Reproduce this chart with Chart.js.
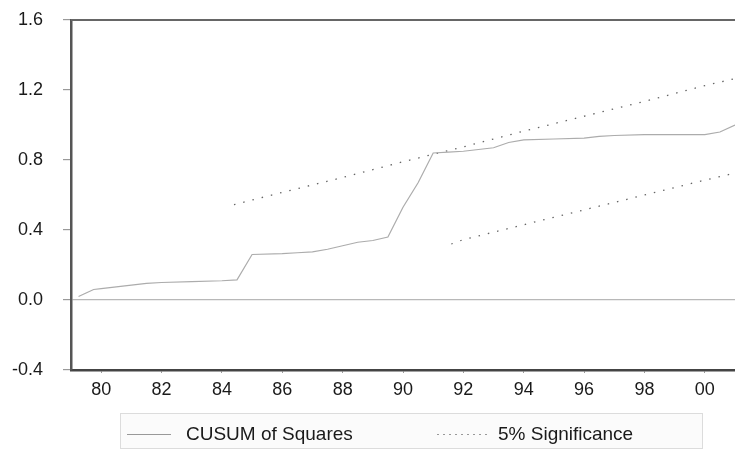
<!DOCTYPE html>
<html>
<head>
<meta charset="utf-8">
<script src="https://cdn.jsdelivr.net/npm/chart.js@4/dist/chart.umd.min.js"></script>
<style>
  html, body { margin: 0; padding: 0; background: #fff; }
  #wrap { width: 735px; height: 451px; }
</style>
</head>
<body>
<div id="wrap"><canvas id="cusumChart" width="735" height="451"></canvas></div>
<script>
// CUSUM of squares, quarterly, 1979-2000
const cusumYears = [1979.25, 1979.5, 1979.75, 1980.0, 1980.5, 1981.0, 1981.5, 1982.0, 1983.0, 1984.0,
  1984.5, 1985.0, 1986.0, 1986.5, 1987.0, 1987.5, 1988.0, 1988.5, 1989.0, 1989.5,
  1990.0, 1990.5, 1991.0, 1991.5, 1992.0, 1992.5, 1993.0, 1993.5, 1994.0, 1995.0,
  1996.0, 1996.5, 1997.0, 1998.0, 1999.0, 2000.0, 2000.5, 2001.0];
const cusumValues = [0.02, 0.04, 0.06, 0.065, 0.075, 0.085, 0.095, 0.10, 0.105, 0.11,
  0.115, 0.26, 0.265, 0.27, 0.275, 0.29, 0.31, 0.33, 0.34, 0.36,
  0.53, 0.67, 0.84, 0.845, 0.85, 0.86, 0.87, 0.90, 0.915, 0.92,
  0.925, 0.935, 0.94, 0.945, 0.945, 0.945, 0.96, 1.0];

// 5% significance bands
const upperYears = [1984.4, 1986, 1988, 1990, 1992, 1994, 1996, 1998, 2000, 2001];
const upperValues = [0.545, 0.615, 0.70, 0.79, 0.875, 0.965, 1.05, 1.135, 1.225, 1.265];
const lowerYears = [1991.6, 1992, 1994, 1996, 1998, 2000, 2001];
const lowerValues = [0.32, 0.345, 0.43, 0.515, 0.60, 0.685, 0.725];

// axis ticks
const xTickYears = [1980, 1982, 1984, 1986, 1988, 1990, 1992, 1994, 1996, 1998, 2000];
const xTickLabels = ["80", "82", "84", "86", "88", "90", "92", "94", "96", "98", "00"];
const yTicks = [-0.4, 0.0, 0.4, 0.8, 1.2, 1.6];

const FONT = "'Liberation Sans', Arial, sans-serif";

function toPoints(xs, ys) {
  return xs.map((x, i) => ({ x: x, y: ys[i] }));
}

// top frame line + legend box under the axis
const frameAndLegend = {
  id: "frameAndLegend",
  afterDraw(chart) {
    const ctx = chart.ctx;
    const area = chart.chartArea;
    ctx.save();

    ctx.strokeStyle = "#666";
    ctx.lineWidth = 2;
    ctx.beginPath();
    ctx.moveTo(area.left, area.top);
    ctx.lineTo(area.right, area.top);
    ctx.stroke();

    const boxTop = 413, boxBottom = 448, boxLeft = 120, boxRight = 702;
    const midY = 434.5;
    ctx.fillStyle = "#fbfbfb";
    ctx.fillRect(boxLeft, boxTop, boxRight - boxLeft, boxBottom - boxTop);
    ctx.strokeStyle = "#dcdcdc";
    ctx.lineWidth = 1;
    ctx.strokeRect(boxLeft + 0.5, boxTop + 0.5, boxRight - boxLeft, boxBottom - boxTop);

    const ds = chart.data.datasets;
    ctx.strokeStyle = "#999";
    ctx.beginPath();
    ctx.moveTo(127, midY);
    ctx.lineTo(171, midY);
    ctx.stroke();

    ctx.strokeStyle = "#999";
    ctx.setLineDash([2, 4]);
    ctx.beginPath();
    ctx.moveTo(437, midY);
    ctx.lineTo(487, midY);
    ctx.stroke();
    ctx.setLineDash([]);

    ctx.fillStyle = "#1a1a1a";
    ctx.font = "19px " + FONT;
    ctx.textBaseline = "middle";
    ctx.textAlign = "left";
    ctx.fillText(ds[0].label, 186, midY);
    ctx.fillText(ds[1].label, 498, midY);
    ctx.restore();
  }
};

const ctx = document.getElementById("cusumChart").getContext("2d");
new Chart(ctx, {
  type: "line",
  data: {
    datasets: [
      {
        label: "CUSUM of Squares",
        data: toPoints(cusumYears, cusumValues),
        borderColor: "#acacac",
        borderWidth: 1.2,
        pointRadius: 0,
        tension: 0
      },
      {
        label: "5% Significance",
        data: toPoints(upperYears, upperValues),
        borderColor: "#666",
        borderWidth: 1.3,
        borderDash: [1.5, 8],
        pointRadius: 0,
        tension: 0
      },
      {
        label: "5% Significance",
        data: toPoints(lowerYears, lowerValues),
        borderColor: "#666",
        borderWidth: 1.3,
        borderDash: [1.5, 8],
        pointRadius: 0,
        tension: 0
      }
    ]
  },
  options: {
    responsive: false,
    animation: false,
    layout: { padding: { top: 20, left: 0, right: 0, bottom: 0 } },
    plugins: {
      legend: { display: false },
      tooltip: { enabled: false }
    },
    scales: {
      x: {
        type: "linear",
        min: 1979,
        max: 2001,
        afterFit(scale) {
          scale.height = 81;
          scale.paddingLeft = 0;
          scale.paddingRight = 0;
        },
        afterBuildTicks(scale) {
          scale.ticks = xTickYears.map(v => ({ value: v }));
        },
        ticks: {
          autoSkip: false,
          maxRotation: 0,
          padding: 6,
          color: "#1a1a1a",
          font: { family: FONT, size: 18 },
          callback: (v) => xTickLabels[xTickYears.indexOf(v)]
        },
        grid: { drawOnChartArea: false, tickLength: 3, tickColor: "#999" },
        border: { display: true, color: "#444", width: 2.5 }
      },
      y: {
        min: -0.4,
        max: 1.6,
        afterFit(scale) {
          scale.width = 71;
          scale.paddingTop = 0;
          scale.paddingBottom = 0;
        },
        afterBuildTicks(scale) {
          scale.ticks = yTicks.map(v => ({ value: v }));
        },
        ticks: {
          padding: 20,
          color: "#1a1a1a",
          font: { family: FONT, size: 18 },
          callback: (v) => v.toFixed(1)
        },
        grid: {
          tickLength: 8,
          tickColor: "#999",
          color: (c) => (c.tick && c.tick.value === 0 ? "#b8b8b8" : "rgba(0,0,0,0)"),
          lineWidth: 1.2
        },
        border: { display: true, color: "#555", width: 2.5 }
      }
    }
  },
  plugins: [frameAndLegend]
});
</script>
</body>
</html>
